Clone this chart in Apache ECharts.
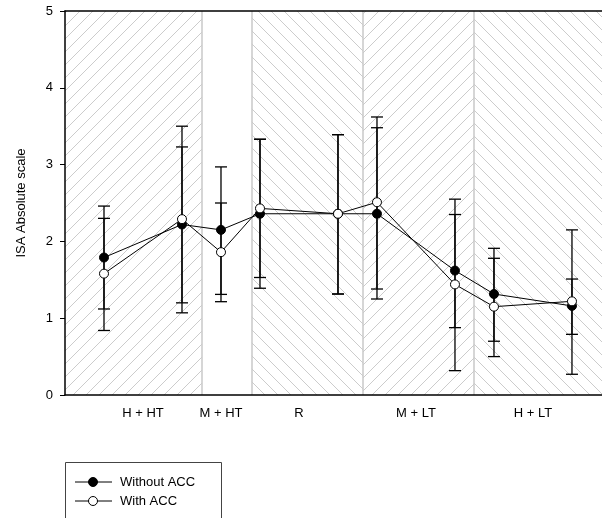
<!DOCTYPE html>
<html>
<head>
<meta charset="utf-8">
<script src="https://cdn.jsdelivr.net/npm/echarts@6/dist/echarts.min.js"></script>
<style>html,body{margin:0;padding:0;background:#fff;}#c{width:602px;height:518px;}</style>
</head>
<body>
<div id="c"></div>
<script>
// ---- data ----
var xPos = [1, 3, 4, 5, 7, 8, 10, 11, 13];
var withoutAcc = [1.79, 2.22, 2.15, 2.36, 2.36, 2.36, 1.62, 1.315, 1.16];
var withoutLow = [1.12, 1.20, 1.31, 1.39, 1.315, 1.25, 0.877, 0.70, 0.79];
var withoutHigh = [2.46, 3.23, 2.97, 3.33, 3.39, 3.48, 2.35, 1.91, 1.51];
var withAcc = [1.58, 2.29, 1.86, 2.43, 2.36, 2.51, 1.44, 1.15, 1.22];
var withLow = [0.84, 1.07, 1.215, 1.53, 1.315, 1.38, 0.317, 0.50, 0.27];
var withHigh = [2.30, 3.50, 2.50, 3.33, 3.39, 3.62, 2.55, 1.78, 2.15];
var xLabelPos = [2, 4, 6, 9, 12];
var xLabels = ['H + HT', 'M + HT', 'R', 'M + LT', 'H + LT'];
var xMin = 0, xMax = 13.77;
var regionStart = [0, 3.51, 4.79, 7.64, 10.49];
var regionEnd = [3.51, 4.79, 7.64, 10.49, 13.77];
var regionHatch = ['fwd', 'none', 'back', 'fwd', 'back'];
var boundaries = [3.51, 4.79, 7.64, 10.49];
var yTicks = [0, 1, 2, 3, 4, 5];
var legendNames = ['Without ACC', 'With ACC'];

function hatch(dir) {
  var s = 13;
  var c = document.createElement('canvas');
  c.width = s; c.height = s;
  var g = c.getContext('2d');
  g.strokeStyle = '#cccccc';
  g.lineWidth = 1;
  for (var k = -1; k <= 1; k++) {
    g.beginPath();
    if (dir === 'fwd') {
      g.moveTo(k * s, s); g.lineTo(k * s + s, 0);
    } else {
      g.moveTo(k * s, 0); g.lineTo(k * s + s, s);
    }
    g.stroke();
  }
  return { image: c, repeat: 'repeat' };
}

var areas = [];
for (var i = 0; i < regionStart.length; i++) {
  if (regionHatch[i] === 'none') continue;
  areas.push([{ xAxis: regionStart[i], itemStyle: { color: hatch(regionHatch[i]) } }, { xAxis: regionEnd[i] }]);
}

function errData(lo, hi) {
  return xPos.map(function (x, i) { return [x, lo[i], hi[i]]; });
}
function errRender(params, api) {
  var x = api.value(0);
  var p1 = api.coord([x, api.value(1)]);
  var p2 = api.coord([x, api.value(2)]);
  var w = 6;
  var st = { stroke: '#000', lineWidth: 1.3 };
  return {
    type: 'group',
    children: [
      { type: 'line', shape: { x1: p1[0], y1: p1[1], x2: p2[0], y2: p2[1] }, style: st },
      { type: 'line', shape: { x1: p1[0] - w, y1: p1[1], x2: p1[0] + w, y2: p1[1] }, style: st },
      { type: 'line', shape: { x1: p2[0] - w, y1: p2[1], x2: p2[0] + w, y2: p2[1] }, style: st }
    ]
  };
}

var font = 'Liberation Sans, Arial, sans-serif';
// legend drawn as graphic elements
var legendGraphic = [
  { type: 'rect', left: 65, top: 462, shape: { x: 0, y: 0, width: 156, height: 70 }, style: { fill: '#fff', stroke: '#444', lineWidth: 1 }, z: 10 }
];
legendNames.forEach(function (name, i) {
  var cy = 482 + i * 19;
  legendGraphic.push({ type: 'line', shape: { x1: 75, y1: cy, x2: 112, y2: cy }, style: { stroke: '#000', lineWidth: 1 }, z: 11 });
  legendGraphic.push({ type: 'circle', shape: { cx: 93, cy: cy, r: 4.5 }, style: { fill: i === 0 ? '#000' : '#fff', stroke: '#000', lineWidth: 1 }, z: 12 });
  legendGraphic.push({ type: 'text', x: 120, y: cy, style: { text: name, fill: '#000', font: '13px ' + font, textVerticalAlign: 'middle', verticalAlign: 'middle' }, z: 12 });
});

var chart = echarts.init(document.getElementById('c'), null, { renderer: 'canvas' });
chart.setOption({
  animation: false,
  textStyle: { fontFamily: font },
  grid: { left: 65, top: 11, right: 0, bottom: 123, show: false, containLabel: false },
  xAxis: [{
    type: 'value', min: xMin, max: xMax, interval: 1, z: 10,
    axisLine: { show: true, lineStyle: { color: '#000', width: 1.5 } },
    axisTick: { show: false },
    splitLine: { show: false },
    axisLabel: {
      margin: 12, color: '#000', fontSize: 13, fontFamily: font, showMaxLabel: false,
      formatter: function (v) { var k = xLabelPos.indexOf(v); return k >= 0 ? xLabels[k] : ''; }
    }
  }, {
    type: 'value', position: 'top', min: xMin, max: xMax, z: 10,
    axisLine: { show: true, onZero: false, lineStyle: { color: '#000', width: 1.5 } },
    axisTick: { show: false }, axisLabel: { show: false }, splitLine: { show: false }
  }],
  yAxis: {
    type: 'value', min: yTicks[0], max: yTicks[yTicks.length - 1], interval: 1, z: 10,
    name: 'ISA Absolute scale', nameLocation: 'middle', nameGap: 37,
    nameTextStyle: { color: '#000', fontSize: 13, fontFamily: font },
    axisLine: { show: true, lineStyle: { color: '#000', width: 1.5 } },
    axisTick: { show: true, inside: false, length: 5, lineStyle: { color: '#000' } },
    splitLine: { show: false },
    axisLabel: { margin: 12, color: '#000', fontSize: 13, fontFamily: font }
  },
  graphic: legendGraphic,
  series: [
    {
      type: 'custom', name: 'bg', silent: true, z: 1, data: [],
      renderItem: function () { return null; },
      markArea: { silent: true, data: areas, label: { show: false } },
      markLine: {
        silent: true, symbol: 'none', label: { show: false },
        lineStyle: { color: '#c8c8c8', width: 1.5, type: 'solid' },
        data: boundaries.map(function (b) { return { xAxis: b }; })
      }
    },
    { type: 'custom', name: 'errWithout', z: 3, renderItem: errRender, data: errData(withoutLow, withoutHigh) },
    { type: 'custom', name: 'errWith', z: 3, renderItem: errRender, data: errData(withLow, withHigh) },
    {
      type: 'line', name: 'Without ACC', z: 5,
      data: xPos.map(function (x, i) { return [x, withoutAcc[i]]; }),
      symbol: 'circle', symbolSize: 9, showAllSymbol: true,
      lineStyle: { color: '#000', width: 1 },
      itemStyle: { color: '#000', borderColor: '#000', borderWidth: 1 }
    },
    {
      type: 'line', name: 'With ACC', z: 6,
      data: xPos.map(function (x, i) { return [x, withAcc[i]]; }),
      symbol: 'circle', symbolSize: 9, showAllSymbol: true,
      lineStyle: { color: '#000', width: 1 },
      itemStyle: { color: '#fff', borderColor: '#000', borderWidth: 1 }
    }
  ]
});
</script>
</body>
</html>
